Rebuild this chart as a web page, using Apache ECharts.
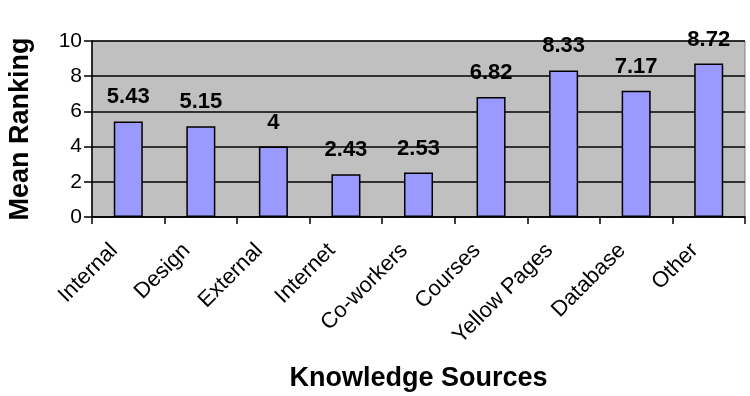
<!DOCTYPE html>
<html>
<head>
<meta charset="utf-8">
<script src="https://cdn.jsdelivr.net/npm/echarts@6/dist/echarts.min.js"></script>
<style>
  html, body { margin: 0; padding: 0; background: #fff; }
  #chart { width: 750px; height: 396px; }
</style>
</head>
<body>
<div id="chart"></div>
<script>
const categories = ['Internal', 'Design', 'External', 'Internet', 'Co-workers', 'Courses', 'Yellow Pages', 'Database', 'Other']
const meanRanking = [5.43, 5.15, 4, 2.43, 2.53, 6.82, 8.33, 7.17, 8.72]

const font = '"Liberation Sans", Arial, sans-serif'
const chart = echarts.init(document.getElementById('chart'), null, { renderer: 'canvas' })

chart.setOption({
  animation: false,
  grid: {
    left: 92,
    right: 5,
    top: 41,
    bottom: 179,
    outerBoundsMode: 'none',
    containLabel: false,
    show: true,
    backgroundColor: '#c0c0c0',
    borderColor: '#808080',
    borderWidth: 1
  },
  xAxis: {
    type: 'category',
    data: categories,
    name: 'Knowledge Sources',
    nameLocation: 'middle',
    nameGap: 148,
    nameTextStyle: { fontFamily: font, fontSize: 27, fontWeight: 'bold', color: '#000' },
    axisLine: { lineStyle: { color: '#000', width: 1.5 } },
    axisTick: { show: true, length: 7, lineStyle: { color: '#000', width: 1.5 } },
    axisLabel: {
      rotate: 45,
      interval: 0,
      margin: 16,
      padding: [0, 20, 0, 0],
      fontFamily: font,
      fontSize: 22,
      color: '#000'
    }
  },
  yAxis: {
    type: 'value',
    min: 0,
    max: 10,
    interval: 2,
    name: 'Mean Ranking',
    nameLocation: 'middle',
    nameGap: 58,
    nameTextStyle: { fontFamily: font, fontSize: 27, fontWeight: 'bold', color: '#000' },
    axisLine: { show: true, lineStyle: { color: '#000', width: 1.5 } },
    axisTick: { show: true, length: 8, lineStyle: { color: '#000', width: 1.5 } },
    axisLabel: { margin: 10, fontFamily: font, fontSize: 21, color: '#000' },
    splitLine: { show: true, lineStyle: { color: '#000', width: 1.5 } }
  },
  series: [{
    type: 'bar',
    data: meanRanking,
    barWidth: '40%',
    itemStyle: { color: '#9999ff', borderColor: '#000', borderWidth: 1.5 },
    label: {
      show: true,
      position: 'top',
      distance: 13,
      fontFamily: font,
      fontSize: 22,
      fontWeight: 'bold',
      color: '#000'
    }
  }]
})
</script>
</body>
</html>
